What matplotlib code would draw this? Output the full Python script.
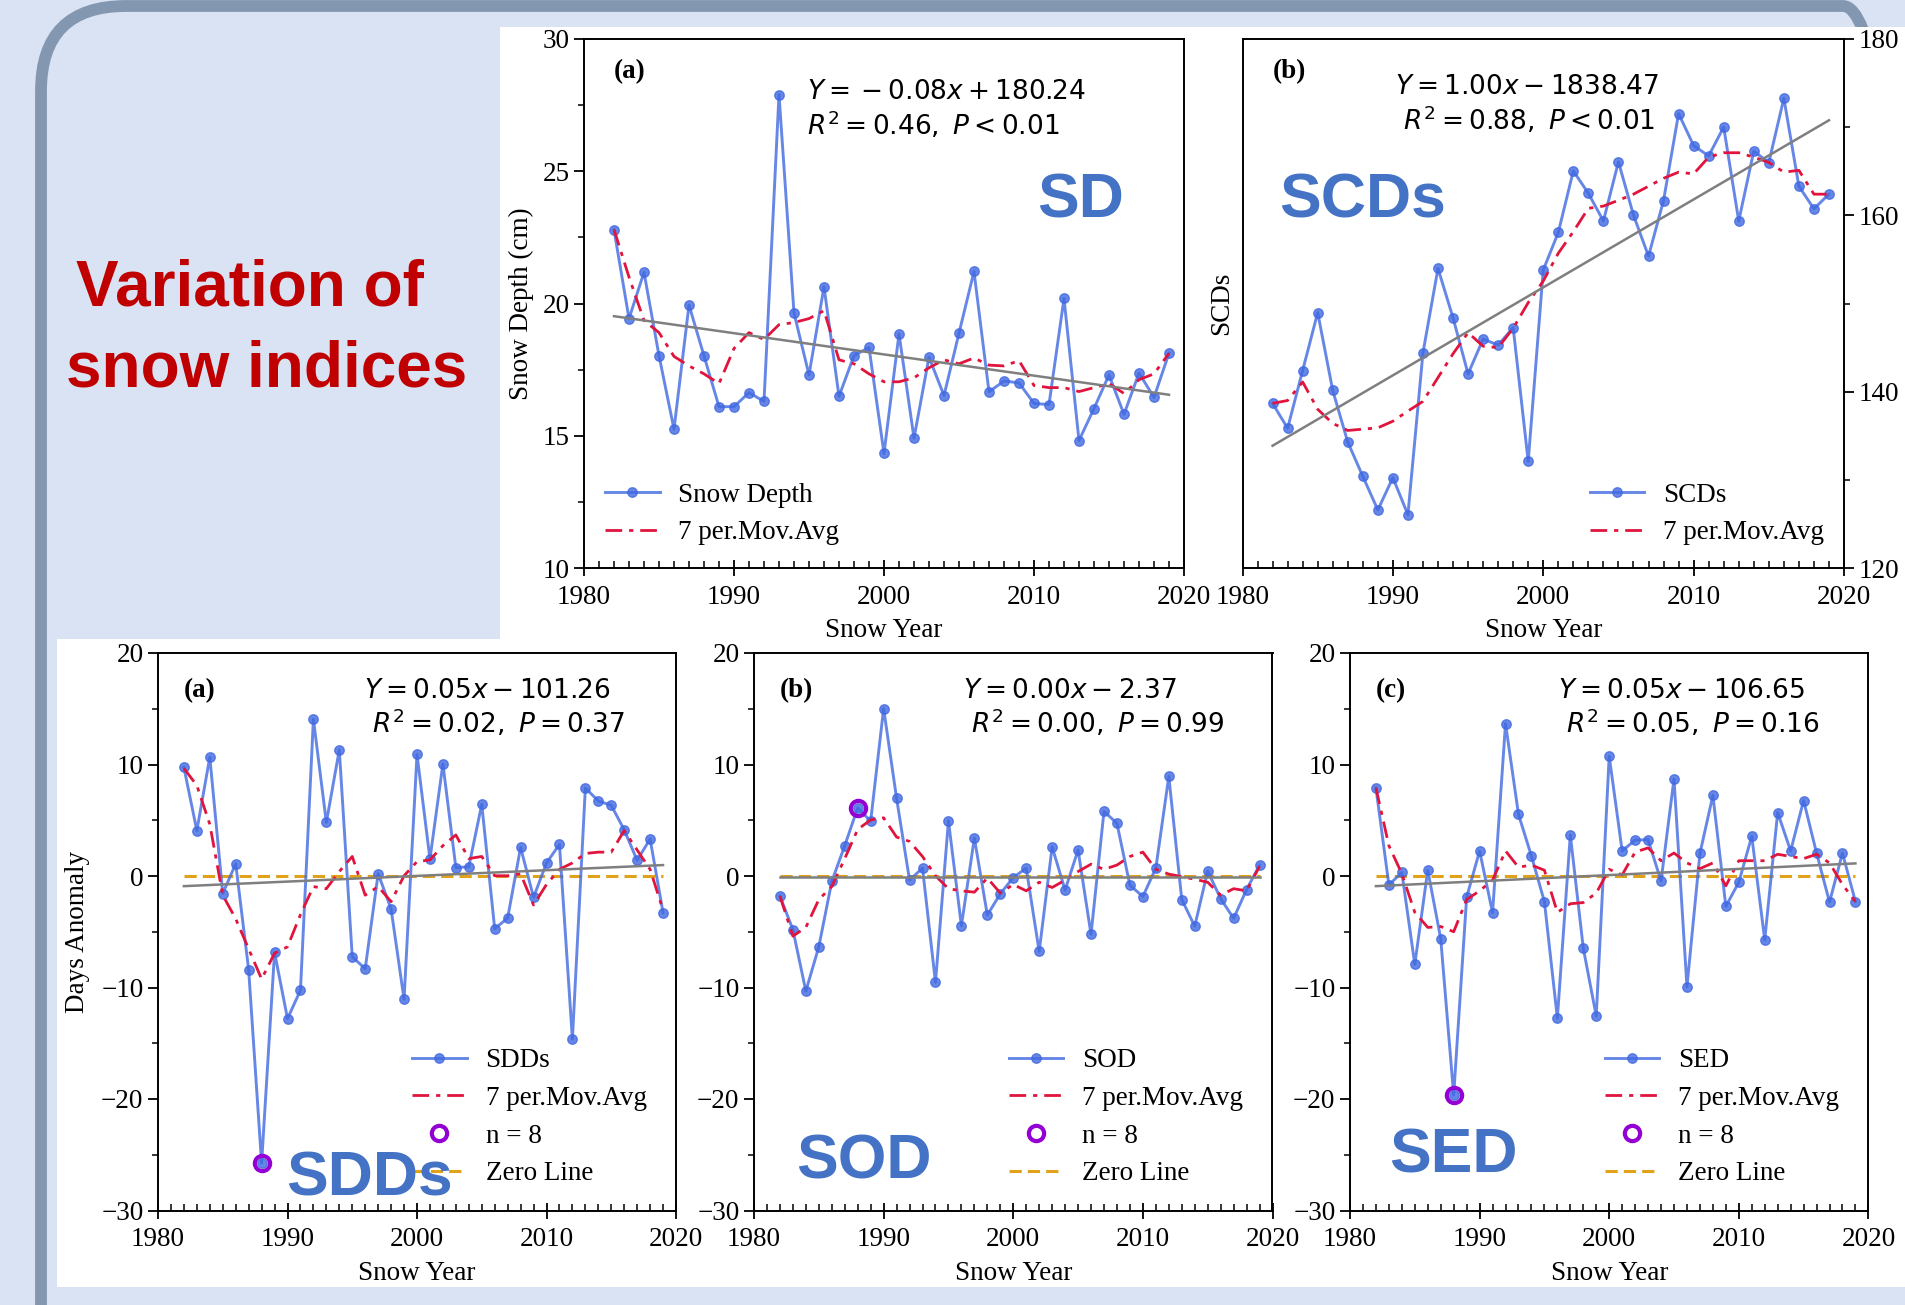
import numpy as np
import matplotlib
matplotlib.use('Agg')
import matplotlib.pyplot as plt
from matplotlib.patches import Rectangle, FancyBboxPatch
from matplotlib.transforms import IdentityTransform
from matplotlib.ticker import MultipleLocator

plt.rcParams['font.family'] = ['Liberation Serif', 'DejaVu Serif']
plt.rcParams['mathtext.fontset'] = 'dejavusans'

years = np.arange(1982, 2020)

# snow depth (cm) and 7 per. moving average
sd = [22.79, 19.43, 21.18, 18.03, 15.25, 19.94, 18.02, 16.10, 16.10, 16.63,
      16.30, 27.90, 19.64, 17.30, 20.63, 16.49, 18.03, 18.34, 14.33, 18.85,
      14.91, 17.97, 16.52, 18.88, 21.21, 16.66, 17.07, 17.00, 16.22, 16.18,
      20.19, 14.82, 16.03, 17.30, 15.81, 17.37, 16.45, 18.12]
sd_avg = [22.8, 21.0, 19.36, 18.9, 18.0, 17.64, 17.34, 16.97, 18.3, 18.9,
          18.64, 19.2, 19.28, 19.43, 19.73, 17.87, 17.72, 17.34, 17.04, 17.04,
          17.19, 17.57, 17.87, 17.72, 17.94, 17.67, 17.64, 17.84, 16.9, 16.82,
          16.82, 16.67, 16.82, 16.97, 16.6, 17.12, 17.34, 18.12]
sd_trend = [19.52, 16.55]

# snow cover days
scd = [138.67, 135.85, 142.4, 148.97, 140.14, 134.28, 130.4, 126.58, 130.25, 126.04,
       144.4, 153.98, 148.38, 142.02, 145.96, 145.29, 147.26, 132.08, 153.8, 158.06,
       165.04, 162.49, 159.36, 166.07, 160.03, 155.37, 161.68, 171.54, 167.91, 166.74,
       170.01, 159.36, 167.28, 165.98, 173.28, 163.3, 160.74, 162.4]
scd_avg = [138.67, 139.0, 141.1, 138.0, 136.4, 135.6, 135.75, 135.9, 136.65, 137.8,
           138.9, 141.6, 144.3, 146.7, 145.15, 145.0, 147.2, 150.1, 152.55, 155.7,
           158.15, 160.8, 161.05, 161.7, 162.4, 163.3, 164.2, 164.9, 164.7, 166.6,
           167.1, 167.1, 166.6, 166.0, 164.9, 165.1, 162.4, 162.4]
scd_trend = [133.87, 170.78]

# days anomaly: SDDs, SOD, SED
sdd = [9.74, 4.07, 10.66, -1.57, 1.1, -8.4, -25.76, -6.85, -12.79, -10.25,
       14.06, 4.8, 11.32, -7.24, -8.32, 0.21, -2.96, -11.06, 10.9, 1.52,
       10.05, 0.75, 0.83, 6.42, -4.73, -3.77, 2.56, -1.91, 1.17, 2.83,
       -14.64, 7.89, 6.73, 6.34, 4.14, 1.4, 3.33, -3.3]
sdd_avg = [9.66, 8.12, 4.64, -1.72, -3.84, -6.54, -9.24, -6.93, -6.35, -3.46,
           -0.95, -1.14, 0.4, 1.75, -1.72, -0.95, -2.3, 0.02, 1.29, 1.44,
           2.72, 3.68, 1.56, 1.75, 0.02, 0.02, 0.2, -2.6, -0.76, 0.6,
           1.17, 2.02, 2.14, 2.14, 4.07, 2.33, 0.6, -3.07]
sdd_trend = [-0.91, 0.98]

sod = [-1.8, -4.81, -10.32, -6.35, -0.49, 2.72, 6.11, 4.92, 15.02, 6.96,
       -0.37, 0.71, -9.55, 4.95, -4.46, 3.41, -3.5, -1.6, -0.14, 0.71,
       -6.77, 2.6, -1.26, 2.33, -5.23, 5.8, 4.72, -0.83, -1.84, 0.71,
       8.93, -2.11, -4.5, 0.44, -2.03, -3.8, -1.22, 0.98]
sod_avg = [-1.8, -5.39, -4.61, -2.11, -0.95, 1.56, 4.18, 5.03, 5.22, 3.49,
           3.1, 1.75, 0.02, -1.14, -1.33, -1.45, -0.18, -1.53, -0.76, -1.33,
           -0.56, -1.03, -0.37, 0.4, 1.06, 0.6, 0.98, 1.75, 2.14, 0.6,
           0.17, -0.06, -0.29, -0.56, -1.72, -1.14, -1.33, 0.86]
sod_trend = [-0.05, -0.05]

sed = [7.92, -0.8, 0.32, -7.93, 0.52, -5.62, -19.66, -1.91, 2.25, -3.3,
       13.67, 5.53, 1.79, -2.3, -12.75, 3.68, -6.47, -12.56, 10.74, 2.25,
       3.22, 3.26, -0.45, 8.7, -9.94, 2.02, 7.23, -2.72, -0.56, 3.56,
       -5.73, 5.69, 2.25, 6.77, 2.06, -2.34, 2.06, -2.3]
sed_avg = [7.92, 2.72, 0.21, -3.26, -4.61, -4.53, -5.0, -2.11, -1.33, -0.37,
           2.25, 0.79, 0.98, 0.52, -3.26, -2.49, -2.38, -1.53, 0.6, 0.1,
           2.14, 2.52, 1.37, 2.06, 1.17, 0.66, 1.17, -0.88, 1.37, 1.37,
           1.37, 1.95, 1.75, 1.56, 1.95, 1.17, -0.76, -2.3]
sed_trend = [-0.91, 1.13]

n8_year = 1988

BLUE = 'royalblue'
RED = '#E0143C'
GREY = '#7f7f7f'
ORANGE = '#E0A21B'
PURPLE = '#9400D3'
LABEL_BLUE = '#4472C4'
FS = 19.5
EQ_FS = 19


def style_axes(ax, ylim, ymajor, yminor):
    ax.set_xlim(1980, 2020)
    ax.set_ylim(*ylim)
    ax.xaxis.set_major_locator(MultipleLocator(10))
    ax.xaxis.set_minor_locator(MultipleLocator(1))
    ax.yaxis.set_major_locator(MultipleLocator(ymajor))
    ax.yaxis.set_minor_locator(MultipleLocator(yminor))
    ax.tick_params(axis='x', which='major', direction='inout', length=12, width=1.3, labelsize=FS, pad=6)
    ax.tick_params(axis='x', which='minor', direction='in', length=5, width=1.1)
    ax.tick_params(axis='y', which='major', direction='out', length=7, width=1.3, labelsize=FS)
    ax.tick_params(axis='y', which='minor', direction='out', length=4, width=1.1)
    for s in ax.spines.values():
        s.set_linewidth(1.4)
    ax.set_xlabel('Snow Year', fontsize=FS, labelpad=6)


def plot_series(ax, vals, avg, trend, name):
    ax.plot(years, vals, '-o', color=BLUE, alpha=0.8, lw=2.1, ms=6.8, label=name)
    ax.plot(years, avg, color=RED, lw=2, ls=(0, (6, 2.5, 1.5, 2.5)), label='7 per.Mov.Avg')
    ax.plot(years[[0, -1]], trend, color=GREY, lw=1.8)


def equation(ax, text, x, y):
    ax.text(x, y, text, transform=ax.transAxes, ha='left', va='center',
            fontsize=EQ_FS, family='DejaVu Sans', linespacing=1.15, zorder=7)


def add_legend(ax, handles, labels, x, y):
    leg = ax.legend(handles, labels, loc='lower left', bbox_to_anchor=(x, y), frameon=False,
                    fontsize=FS, borderpad=0, handlelength=2.0, handletextpad=0.7,
                    labelspacing=0.47)
    leg.set_zorder(5)


fig = plt.figure(figsize=(19.06, 13.05), dpi=100, facecolor='#DAE3F3')

# frame and white panels behind the axes
frame = FancyBboxPatch((41, -300), 1887, 1299 + 300, boxstyle='round,pad=0,rounding_size=85',
                       transform=IdentityTransform(), fill=False, edgecolor='#8497B0', lw=8.5,
                       zorder=-3)
fig.add_artist(frame)
fig.add_artist(Rectangle((500 / 1906, 1 - 640 / 1305), 1, (640 - 27) / 1305,
                         transform=fig.transFigure, color='white', lw=0, zorder=-2))
fig.add_artist(Rectangle((57 / 1906, 1 - 1287 / 1305), 1, (1287 - 640) / 1305 + 0.001,
                         transform=fig.transFigure, color='white', lw=0, zorder=-2))

fig.text(76 / 1906, 1 - 305 / 1305, 'Variation of', color='#C00000', fontsize=46,
         family='Liberation Sans', weight='bold', va='baseline', ha='left')
fig.text(66 / 1906, 1 - 387 / 1305, 'snow indices', color='#C00000', fontsize=46,
         family='Liberation Sans', weight='bold', va='baseline', ha='left')

# ---- top row ----
ax1 = fig.add_axes([584 / 1906, 1 - 568 / 1305, 600 / 1906, 529 / 1305])
plot_series(ax1, sd, sd_avg, sd_trend, 'Snow Depth')
style_axes(ax1, (10, 30), 5, 2.5)
ax1.set_ylabel('Snow Depth (cm)', fontsize=FS, labelpad=6)
ax1.text(0.05, 0.938, '(a)', transform=ax1.transAxes, fontsize=FS, weight='bold', va='center')
equation(ax1, '$Y = {} - 0.08x + 180.24$\n$R^2 = 0.46,\\ P < 0.01$', 0.372, 0.866)
ax1.text(0.827, 0.694, 'SD', transform=ax1.transAxes, color=LABEL_BLUE, fontsize=45,
         family='Liberation Sans', weight='bold', ha='center', va='center')
h, lbl = ax1.get_legend_handles_labels()
add_legend(ax1, h, lbl, 0.013, 0.017)

ax2 = fig.add_axes([1242.5 / 1906, 1 - 568 / 1305, 601.5 / 1906, 529 / 1305])
plot_series(ax2, scd, scd_avg, scd_trend, 'SCDs')
style_axes(ax2, (120, 180), 20, 10)
ax2.yaxis.tick_right()
ax2.yaxis.set_label_position('left')
ax2.set_ylabel('SCDs', fontsize=FS, labelpad=6)
ax2.text(0.05, 0.938, '(b)', transform=ax2.transAxes, fontsize=FS, weight='bold', va='center')
equation(ax2, '$Y = 1.00x - 1838.47$\n $R^2 = 0.88,\\ P < 0.01$', 0.254, 0.875)
ax2.text(0.2, 0.694, 'SCDs', transform=ax2.transAxes, color=LABEL_BLUE, fontsize=45,
         family='Liberation Sans', weight='bold', ha='center', va='center')
h, lbl = ax2.get_legend_handles_labels()
add_legend(ax2, h, lbl, 0.555, 0.017)

# ---- bottom row ----
bottom = [
    (158, 676, sdd, sdd_avg, sdd_trend, 'SDDs', '(a)',
     '$Y = 0.05x - 101.26$\n $R^2 = 0.02,\\ P = 0.37$', 0.398, (0.408, 0.056)),
    (754, 1272.5, sod, sod_avg, sod_trend, 'SOD', '(b)',
     '$Y = 0.00x - 2.37$\n $R^2 = 0.00,\\ P = 0.99$', 0.403, (0.212, 0.087)),
    (1350, 1868.4, sed, sed_avg, sed_trend, 'SED', '(c)',
     '$Y = 0.05x - 106.65$\n $R^2 = 0.05,\\ P = 0.16$', 0.402, (0.2, 0.097)),
]
for i, (l, r, vals, avg, trend, name, tag, eq, eqx, lab) in enumerate(bottom):
    ax = fig.add_axes([l / 1906, 1 - 1210.5 / 1305, (r - l) / 1906, 557.5 / 1305])
    ax.plot([1982, 2019], [0, 0], color=ORANGE, lw=2.2, ls=(0, (4, 2)), label='Zero Line', zorder=1)
    plot_series(ax, vals, avg, trend, name)
    idx = list(years).index(n8_year)
    ax.plot(n8_year, vals[idx], 'o', ms=11, mfc='none', mec=PURPLE, mew=3, label='n = 8', zorder=5)
    style_axes(ax, (-30, 20), 10, 5)
    if i == 0:
        ax.set_ylabel('Days Anomaly', fontsize=FS, labelpad=8)
    ax.text(0.05, 0.932, tag, transform=ax.transAxes, fontsize=FS, weight='bold', va='center')
    equation(ax, eq, eqx, 0.9)
    h, lbl = ax.get_legend_handles_labels()
    order = [1, 2, 3, 0]
    add_legend(ax, [h[j] for j in order], [lbl[j] for j in order], 0.465, 0.019)
    ax.text(lab[0], lab[1], name, transform=ax.transAxes, color=LABEL_BLUE, fontsize=45,
            family='Liberation Sans', weight='bold', ha='center', va='center', zorder=8)

fig.savefig('out.png', dpi=100, facecolor=fig.get_facecolor())
